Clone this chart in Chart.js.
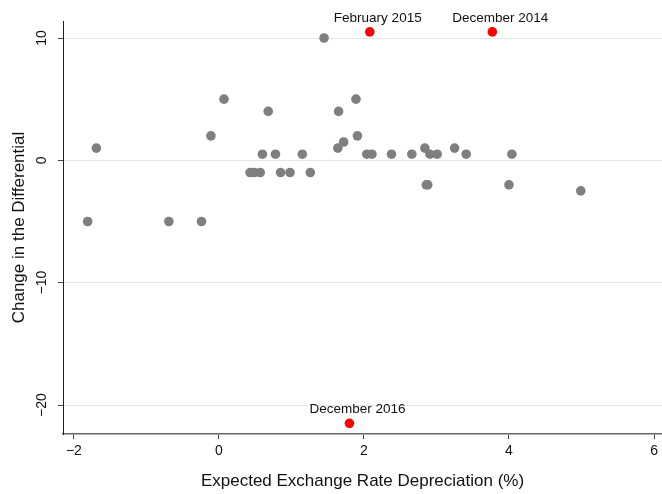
<!DOCTYPE html>
<html>
<head>
<meta charset="utf-8">
<script src="https://cdn.jsdelivr.net/npm/chart.js@4.4.0/dist/chart.umd.min.js"></script>
<style>
  html, body { margin: 0; padding: 0; background: #fff; }
  #wrap { width: 662px; height: 494px; }
</style>
</head>
<body>
<div id="wrap"><canvas id="grafico"></canvas></div>
<script>
// expected depreciation (%) vs change in the differential
const depreciacao = [-1.81, -1.69, -0.69, -0.24, -0.11, 0.07, 0.68, 0.43, 0.49, 0.57,
  0.60, 0.78, 0.85, 0.98, 1.15, 1.26, 1.45, 1.65, 1.64, 1.72, 1.89, 1.91, 2.04, 2.11,
  2.38, 2.66, 2.84, 2.86, 2.88, 2.91, 3.01, 3.25, 3.41, 4.00, 4.04, 4.99];
const diferencial = [-5, 1, -5, -5, 2, 5, 4, -1, -1, -1,
  0.5, 0.5, -1, -1, 0.5, -1, 10, 4, 1, 1.5, 5, 2, 0.5, 0.5,
  0.5, 0.5, 1, -2, -2, 0.5, 0.5, 1, 0.5, -2, 0.5, -2.5];

const destaqueNomes = ["February 2015", "December 2014", "December 2016"];
const destaqueX = [2.08, 3.77, 1.80];
const destaqueY = [10.5, 10.5, -21.5];

const ticksX = [-2, 0, 2, 4, 6];
const ticksY = [-20, -10, 0, 10];

const fonte = "'Liberation Sans', Arial, Helvetica, sans-serif";
const menos = v => v < 0 ? "\u2212" + Math.abs(v) : String(v);

// y tick labels are rotated in the original, draw them by hand
const rotulosY = {
  id: "rotulosY",
  afterDraw(chart) {
    const ctx = chart.ctx;
    const y = chart.scales.y;
    ctx.save();
    ctx.font = "14px " + fonte;
    ctx.fillStyle = "#111";
    ctx.textAlign = "center";
    ctx.textBaseline = "middle";
    for (const v of ticksY) {
      ctx.save();
      ctx.translate(42, y.getPixelForValue(v));
      ctx.rotate(-Math.PI / 2);
      ctx.fillText(menos(v), 0, 0);
      ctx.restore();
    }
    ctx.restore();
  }
};

const rotulosPontos = {
  id: "rotulosPontos",
  afterDatasetsDraw(chart) {
    const ctx = chart.ctx;
    const meta = chart.getDatasetMeta(1);
    ctx.save();
    ctx.font = "13.5px " + fonte;
    ctx.fillStyle = "#111";
    ctx.textAlign = "center";
    ctx.textBaseline = "alphabetic";
    meta.data.forEach((p, i) => {
      ctx.fillText(destaqueNomes[i], p.x + 8, p.y - 10);
    });
    ctx.restore();
  }
};

const ctx = document.getElementById("grafico").getContext("2d");
new Chart(ctx, {
  type: "scatter",
  data: {
    datasets: [{
      data: depreciacao.map((x, i) => ({ x: x, y: diferencial[i] })),
      backgroundColor: "#7f7f7f",
      borderWidth: 0,
      pointRadius: 4.8,
    }, {
      data: destaqueX.map((x, i) => ({ x: x, y: destaqueY[i] })),
      backgroundColor: "#ff0000",
      borderWidth: 0,
      pointRadius: 4.8,
    }],
  },
  options: {
    responsive: true,
    maintainAspectRatio: false,
    animation: false,
    layout: { autoPadding: false, padding: { top: 21, right: 0, bottom: 0, left: 0 } },
    plugins: { legend: { display: false }, tooltip: { enabled: false } },
    scales: {
      x: {
        type: "linear",
        min: -2.15,
        max: 6.11,
        afterBuildTicks: s => { s.ticks = ticksX.map(v => ({ value: v })); },
        afterFit: s => { s.height = 60; s.paddingLeft = 0; s.paddingRight = 0; },
        grid: { drawOnChartArea: false, tickLength: 5, tickColor: "#444" },
        border: { color: "#666", width: 1.5 },
        ticks: {
          callback: v => menos(v),
          font: { family: fonte, size: 14 },
          color: "#111",
          padding: 4,
          maxRotation: 0,
        },
        title: {
          display: true,
          text: "Expected Exchange Rate Depreciation (%)",
          font: { family: fonte, size: 17 },
          color: "#111",
          padding: { top: 0, bottom: 2 },
        },
      },
      y: {
        type: "linear",
        min: -22.37,
        max: 11.39,
        afterBuildTicks: s => { s.ticks = ticksY.map(v => ({ value: v })); },
        afterFit: s => { s.width = 63; s.paddingTop = 0; s.paddingBottom = 0; },
        grid: { color: "#e6e6e6", tickLength: 5, tickColor: "#444" },
        border: { color: "#222", width: 1 },
        ticks: { display: false },
        title: {
          display: true,
          text: "Change in the Differential",
          font: { family: fonte, size: 17 },
          color: "#111",
          padding: { top: 9, bottom: 0 },
        },
      },
    },
  },
  plugins: [rotulosY, rotulosPontos],
});
</script>
</body>
</html>
